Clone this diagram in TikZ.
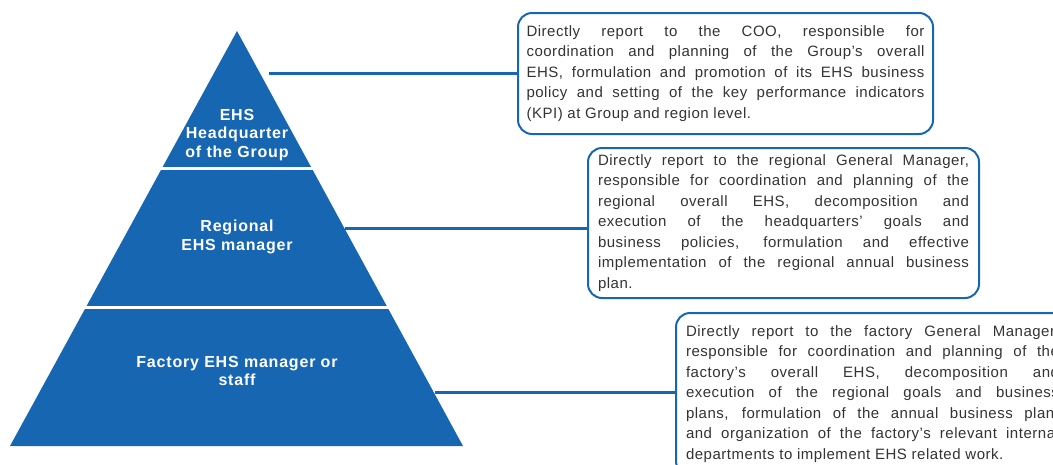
\documentclass[tikz,border=0pt]{standalone}
\usepackage{fontspec}
\setmainfont{Liberation Sans}
\newfontfamily\descfont[LetterSpace=3.5]{Liberation Sans}
\newfontfamily\tierfont[LetterSpace=5]{Liberation Sans}
\definecolor{ehsblue}{HTML}{1766B2}
\definecolor{desctext}{HTML}{333333}
\tikzset{
  tier/.style={text=white, align=center, font=\tierfont\bfseries\fontsize{16}{18.3}\selectfont},
  descbox/.style={draw=ehsblue, line width=2pt, rounded corners=14pt, align=justify, anchor=north west,
    text=desctext, font=\descfont\fontsize{15}{20.5}\selectfont},
  link/.style={draw=ehsblue, line width=3pt}
}

\begin{document}
\begin{tikzpicture}[x=1pt, y=-1pt]
  \useasboundingbox (0,0) rectangle (1053,464);
  \clip (0,0) rectangle (1053,464);

  \fill[ehsblue] (237,31) -- (463,446) -- (10,446) -- cycle;
  \draw[white, line width=3pt] (150,168) -- (330,168) (70,307) -- (400,307);

  \node[tier] (hq) at (237,135) {EHS\\Headquarter\\of the Group};
  \node[tier] (reg) at (237,237) {Regional\\EHS manager};
  \node[tier] (fac) at (237,371) {Factory EHS manager or\\staff};

  \node[descbox, text width=398pt, inner xsep=8.5pt, minimum height=121pt] (hqbox) at (517,12)
    {Directly report to the COO, responsible for\linebreak
     coordination and planning of the Group’s overall\linebreak
     EHS, formulation and promotion of its EHS business\linebreak
     policy and setting of the key performance indicators\linebreak
     (KPI) at Group and region level.};
  \node[descbox, text width=371pt, inner xsep=10pt, minimum height=150pt] (regbox) at (587,147)
    {Directly report to the regional General Manager,\linebreak
     responsible for coordination and planning of the\linebreak
     regional overall EHS, decomposition and\linebreak
     execution of the headquarters’ goals and\linebreak
     business policies, formulation and effective\linebreak
     implementation of the regional annual business\linebreak
     plan.};
  \node[descbox, text width=373pt, inner xsep=10pt, minimum height=162pt] (facbox) at (675,312)
    {Directly report to the factory General Manager,\linebreak
     responsible for coordination and planning of the\linebreak
     factory’s overall EHS, decomposition and\linebreak
     execution of the regional goals and business\linebreak
     plans, formulation of the annual business plan,\linebreak
     and organization of the factory’s relevant internal\linebreak
     departments to implement EHS related work.};

  \coordinate (hqr) at (269,73);
  \coordinate (regr) at (345,228);
  \coordinate (facr) at (435,392);

  \draw[link]
    (hqr) -- (hqr -| hqbox.west)
    (regr) -- (regr -| regbox.west)
    (facr) -- (facr -| facbox.west);
\end{tikzpicture}
\end{document}
